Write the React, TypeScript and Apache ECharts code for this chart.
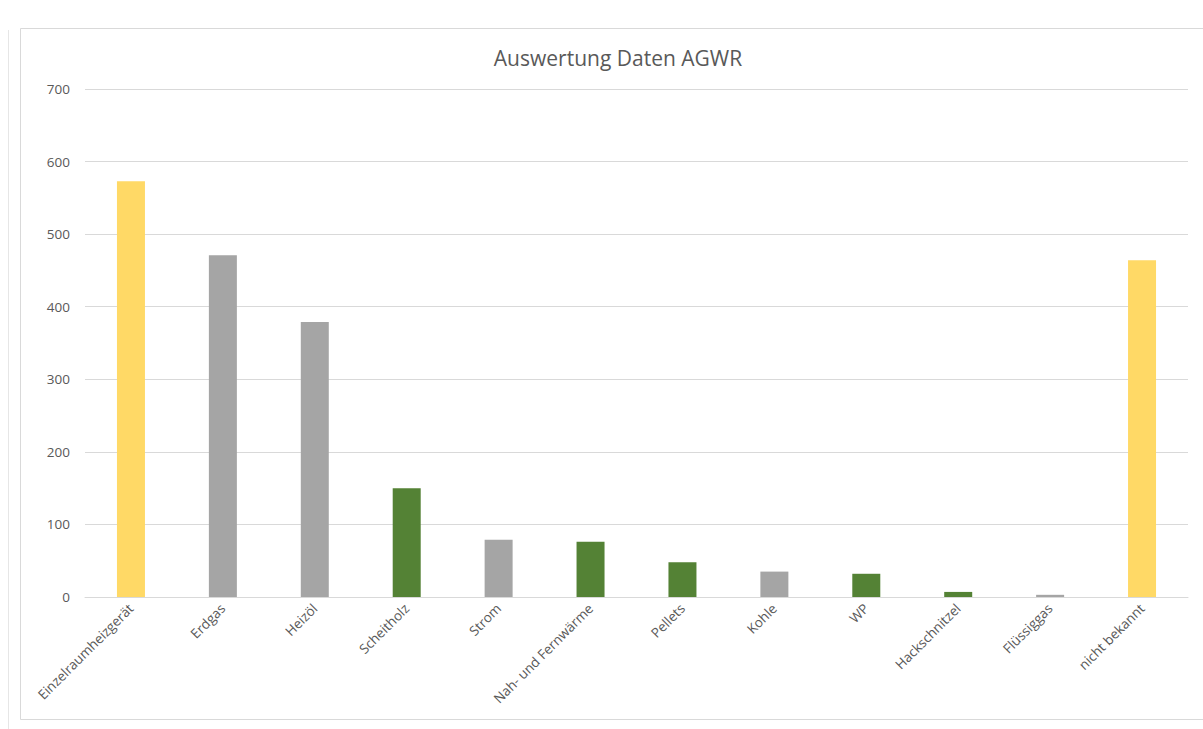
import React, { useEffect, useRef } from "react";
import * as echarts from "echarts";

const categories = [
  "Einzelraumheizgerät",
  "Erdgas",
  "Heizöl",
  "Scheitholz",
  "Strom",
  "Nah- und Fernwärme",
  "Pellets",
  "Kohle",
  "WP",
  "Hackschnitzel",
  "Flüssiggas",
  "nicht bekannt",
];
const values = [573, 471, 379, 150, 79, 76, 48, 35, 32, 7, 3, 464];
const colorGroups = ["y", "g", "g", "n", "g", "n", "n", "g", "n", "n", "g", "y"];
const palette: Record<string, string> = { y: "#FFD966", g: "#A5A5A5", n: "#548235" };
const yTicks = [0, 100, 200, 300, 400, 500, 600, 700];

export default function App() {
  const ref = useRef<HTMLDivElement>(null);
  useEffect(() => {
    document.body.style.margin = "0";
    const chart = echarts.init(ref.current!, undefined, { renderer: "svg" });
    const font = "'Open Sans', 'Liberation Sans', Arial, sans-serif";
    chart.setOption({
      animation: false,
      backgroundColor: "#ffffff",
      title: {
        text: "Auswertung Daten AGWR",
        left: 613,
        textAlign: "center",
        top: 42,
        textStyle: { fontFamily: font, fontSize: 21, fontWeight: "normal", color: "#595959" },
      },
      graphic: [
        { type: "rect", shape: { x: 20.5, y: 28.5, width: 1200, height: 691 }, style: { fill: "none", stroke: "#d9d9d9", lineWidth: 1 }, silent: true },
        { type: "line", shape: { x1: 8.5, y1: 30, x2: 8.5, y2: 729 }, style: { stroke: "#e6e6e6", lineWidth: 1 }, silent: true },
      ],
      grid: { left: 85, right: 15, top: 89, bottom: 132, containLabel: false },
      xAxis: {
        type: "category",
        data: categories,
        axisLine: { lineStyle: { color: "#d9d9d9" } },
        axisTick: { show: false },
        axisLabel: { rotate: 45, interval: 0, margin: 9, fontFamily: font, fontSize: 13.5, color: "#595959" },
      },
      yAxis: {
        type: "value",
        min: yTicks[0],
        max: yTicks[yTicks.length - 1],
        interval: 100,
        axisLine: { show: false },
        axisTick: { show: false },
        splitLine: { lineStyle: { color: "#d9d9d9" } },
        axisLabel: { margin: 15, fontFamily: font, fontSize: 13.5, color: "#595959" },
      },
      series: [
        {
          type: "bar",
          barWidth: 28,
          data: values.map((v, i) => ({ value: v, itemStyle: { color: palette[colorGroups[i]] } })),
        },
      ],
    });
    return () => chart.dispose();
  }, []);
  return <div ref={ref} style={{ width: 1203, height: 729 }} />;
}
